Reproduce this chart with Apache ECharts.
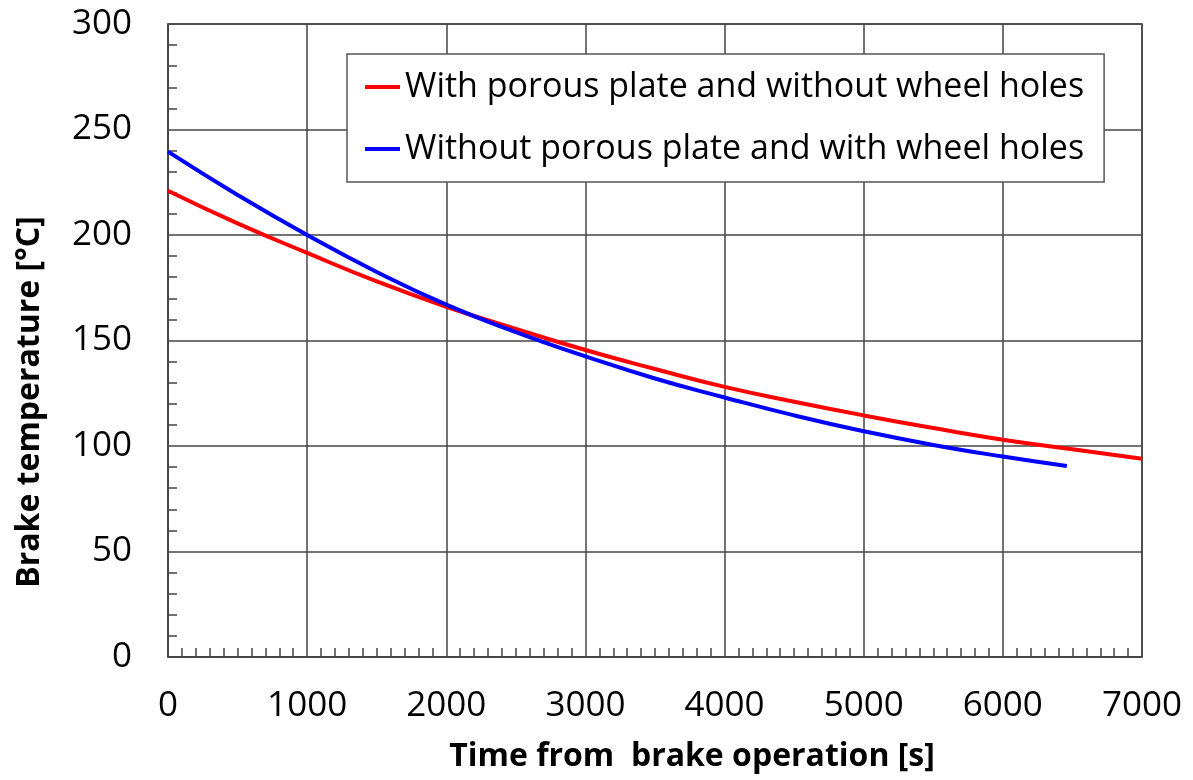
<!DOCTYPE html>
<html>
<head>
<meta charset="utf-8">
<script src="https://cdn.jsdelivr.net/npm/echarts@6/dist/echarts.min.js"></script>
<style>
  html, body { margin: 0; padding: 0; background: #fff; }
  #chart { width: 1193px; height: 780px; }
</style>
</head>
<body>
<div id="chart"></div>
<script>
// 数据
const seriesNames = ['With porous plate and without wheel holes', 'Without porous plate and with wheel holes'];
const redTime = [0, 500, 1000, 1500, 2000, 2500, 3000, 3500, 4000, 4500, 5000, 5500, 6000, 6500, 7000];
const redTemp = [221, 205.5, 191.5, 178, 166, 155.5, 145.5, 136.5, 128, 121, 114.5, 108.5, 103, 98.5, 94];
const blueTime = [0, 500, 1000, 1500, 2000, 2500, 3000, 3500, 4000, 4500, 5000, 5500, 6000, 6460];
const blueTemp = [239.5, 219, 200, 182.5, 167, 154, 142.5, 132, 123, 114.5, 107, 100.5, 95, 90.5];

const font = '"Open Sans", "Liberation Sans", sans-serif';
const gridColor = '#444';

const pairs = (xs, ys) => xs.map((x, i) => [x, ys[i]]);

const chart = echarts.init(document.getElementById('chart'));

const option = {
  animation: false,
  grid: { left: 168, top: 24, right: 51, bottom: 123 },
  legend: {
    orient: 'vertical',
    left: 347,
    top: 54,
    data: seriesNames,
    icon: 'rect',
    itemWidth: 35,
    itemHeight: 4,
    itemGap: 28,
    padding: [16, 20, 16, 18],
    backgroundColor: '#fff',
    borderColor: '#555',
    borderWidth: 1.5,
    borderRadius: 0,
    textStyle: { fontFamily: font, fontSize: 34, color: '#000' }
  },
  xAxis: {
    type: 'value',
    min: 0,
    max: 7000,
    interval: 1000,
    axisLine: { lineStyle: { color: gridColor, width: 1.5 } },
    axisTick: { show: false, inside: true },
    minorTick: { show: true, splitNumber: 10, length: 9, lineStyle: { color: gridColor, width: 1.5 } },
    splitLine: { show: true, lineStyle: { color: gridColor, width: 1.5 } },
    axisLabel: { fontFamily: font, fontSize: 35, color: '#000', margin: 32, formatter: (v) => String(v) }
  },
  yAxis: {
    type: 'value',
    min: 0,
    max: 300,
    interval: 50,
    axisLine: { show: true, lineStyle: { color: gridColor, width: 1.5 } },
    axisTick: { show: false, inside: true },
    minorTick: { show: true, splitNumber: 5, length: 9, lineStyle: { color: gridColor, width: 1.5 } },
    splitLine: { show: true, lineStyle: { color: gridColor, width: 1.5 } },
    axisLabel: { fontFamily: font, fontSize: 35, color: '#000', margin: 36 }
  },
  graphic: [
    {
      type: 'rect',
      shape: { x: 168, y: 24, width: 974, height: 633 },
      style: { fill: 'none', stroke: gridColor, lineWidth: 1.5 },
      silent: true,
      z: 1
    },
    {
      type: 'text',
      x: 692,
      y: 757,
      style: {
        text: 'Time from  brake operation [s]',
        fontFamily: font, fontSize: 32, fontWeight: 'bold',
        fill: '#000', align: 'center', verticalAlign: 'middle'
      }
    },
    {
      type: 'text',
      x: 30,
      y: 402,
      rotation: Math.PI / 2,
      style: {
        text: 'Brake temperature [°C]',
        fontFamily: font, fontSize: 32, fontWeight: 'bold',
        fill: '#000', align: 'center', verticalAlign: 'middle'
      }
    }
  ],
  series: [
    {
      name: seriesNames[0],
      type: 'line',
      data: pairs(redTime, redTemp),
      smooth: true,
      showSymbol: false,
      lineStyle: { color: '#ff0000', width: 4 },
      itemStyle: { color: '#ff0000' },
      z: 3
    },
    {
      name: seriesNames[1],
      type: 'line',
      data: pairs(blueTime, blueTemp),
      smooth: true,
      showSymbol: false,
      lineStyle: { color: '#0000ff', width: 4 },
      itemStyle: { color: '#0000ff' },
      z: 3
    }
  ]
};

chart.setOption(option);
</script>
</body>
</html>
